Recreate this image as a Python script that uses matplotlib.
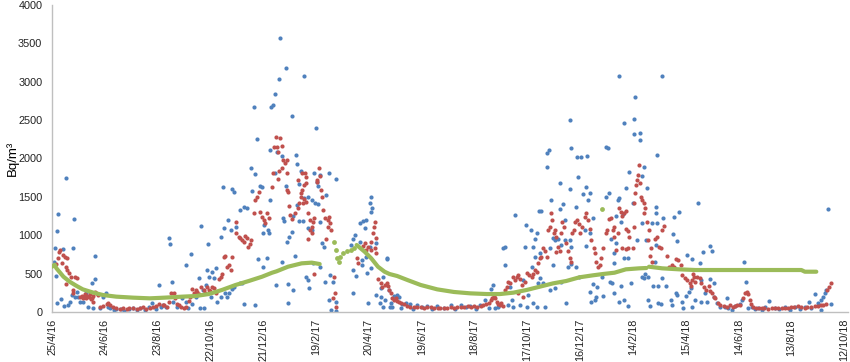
import matplotlib
matplotlib.use("Agg")
import matplotlib.pyplot as plt
import numpy as np
import datetime as dt

# ---- data (x = days since 25/4/2016, y = Bq/m3) ----
start = dt.date(2016, 4, 25)
tick_days = list(range(0, 901, 60))
tick_labels = [f"{(start + dt.timedelta(days=d)).day}/{(start + dt.timedelta(days=d)).month}/{(start + dt.timedelta(days=d)).year % 100}" for d in tick_days]

blue = [
    (2.6,656),(3.4,829),(4.1,469),(6,1055),(7.2,1272),(12,816),(15.8,1750),(24.9,1212),(24,838),(48.6,730),
    (5.3,122),(10,165),(13.6,78),(18.5,91),(21,135),(22.6,221),(26,200),(28,265),(30,200),(32,135),(35.4,135),
    (39,243),(41,70),(45,382),(48.6,426),(47,48),(54,48),(58,200),(61,243),(66,48),(73,35),(88,35),(100,48),
    (113,113),(121,352),(124,70),(64,60),(70,20),(78,40),(82,15),(92,55),(96,25),(106,30),(110,70),(118,40),
    (133,960),(134,882),(136,395),(152.6,612),(157.6,751),(169,1125),(177.5,882),(194.5,1624),(204.6,1603),
    (206.5,1568),(191.5,981),(195,1099),(200,1199),(203,1068),(208.5,1112),(213,1329),(218,1364),(221.6,1350),
    (227.3,1581),(230.3,1798),(226,1881),(229,2675),(233,2250),(236.7,1642),(238.6,1633),(248,2111),(249,2667),
    (250.6,2693),(253,2836),(253.7,1815),(248,1459),(239.3,1025),(245.4,1068),(240.5,1134),(246,1025),(233.7,686),
    (240,590),(244,699),(216,373),(218,104),(231,96),(213,382),(197,243),(199,200),(191.5,200),(187.7,135),
    (181,200),(176.4,547),(182,525),(186.6,569),(184,439),(178.3,460),(171,287),(167,439),(174.5,352),(163,200),
    (159.4,104),(152,135),(148,178),(142.5,70),(137,135),(129,70),(125.5,91),(168,48),(154,48),(172.6,48),
    (204.6,295),(206.5,330),(201,243),(254.4,352),
    (259,3574),(265.4,3175),(257.8,3031),(286,3079),(272,2558),(299.7,2393),(255,2089),(260.8,2033),(276.7,2046),
    (277.8,1928),(282.7,1837),(297.8,1807),(304.2,1785),(314.4,1807),(322,1733),(300.4,1698),(302.3,1642),
    (265.7,1642),(280.4,1668),(291,1503),(286.5,1481),(294.8,1459),(298.5,1424),(302.3,1407),(311.7,1524),
    (277.8,1394),(262.7,1220),(263.9,1190),(274,1251),(280.4,1190),(285.3,1190),(290.2,1090),(294.8,1068),
    (304.2,1177),(272.9,1047),(269.1,973),(266.5,916),(306.8,895),(309,851),(275.9,734),(260.8,647),(296.7,634),
    (304.2,590),(288,460),(290.2,417),(291.7,308),(268.4,365),(274,287),(267.6,122),(309.8,395),(315.5,482),
    (319.3,395),(314.4,156),(322,135),(316.6,26),(322,17),(341.9,947),(349.4,1164),(353.2,1190),(357,1199),
    (360.7,1424),(362.6,1494),(363.7,1351),(362.6,1307),(355,1090),(343.8,1003),(349.4,916),(360.7,851),
    (368.3,895),(340,873),(352,677),(357,721),(352,612),(341.9,547),(345.7,469),(341.9,252),(358,504),(362.6,569),
    (380,686),(375.8,460),(373.2,308),(368.3,221),(372,113),(358.8,122),(374,200),(377.7,156),(383.3,70),(375.8,70),
    (381,699),(383,287),(384.8,113),(388.5,208),(390.4,178),(392.3,221),(394,200),(386.6,70),(396,48),(398,104),
    (401.7,113),(407,104),(415,91),(426,78),(437.5,78),(452.6,91),(464,91),(475,78),(486.5,91),(492,156),(498,295),
    (501,352),(496,48),(503.5,48),(507,70),(410,40),(420,60),(431,45),(445,55),(458,40),(470,60),(481,45),
    (512.6,830),(514.5,851),(525.8,1264),(538.2,1134),(543.5,1068),(537,843),(546.5,851),(548.4,947),(550.3,1025),
    (553.3,1320),(555.9,1320),(561.6,2067),(564.6,2111),(562.7,1885),(567.2,1459),(569.1,960),(571,938),
    (574.8,947),(576.6,1676),(580.4,1407),(576.6,1338),(582.3,1199),(588.7,2502),(589.8,2141),(596.2,2024),
    (601.1,2024),(607.6,2033),(597.4,1763),(606.8,1633),(611.3,1555),(588,1598),(603,1537),(608.7,1459),
    (594.7,1372),(614.3,1220),(604.9,1068),(610.5,1025),(588,938),(589.8,851),(606,860),(599,460),(586,590),
    (589.8,625),(584,113),(594.7,590),(610.5,265),(614.3,365),(618.9,330),(618.1,200),(612.4,135),(616.2,156),
    (625.7,208),(633.2,395),(636.2,373),(629.4,2154),(631.3,2132),(628.7,1503),(632.4,1555),(624.9,460),(635,947),
    (638.8,634),(557.8,373),(569.1,612),(559.7,70),(550.3,70),(546.5,113),(539,70),(531.4,91),(523.9,70),
    (518.2,91),(522,156),(520,321),(514.5,612),(535.2,417),(540.8,221),(552.2,373),(554,439),(571,308),
    (565.3,287),(578.5,395),(554,764),(548.4,721),(565.3,830),(544.6,590),(582.3,938),(578.5,873),
    (643.4,3075),(692.4,3079),(662.2,2797),(661.1,2519),(649.8,2458),(661.1,2319),(668.3,2328),(667.5,2241),
    (687.5,2046),(655.4,1828),(672.4,1893),(669.8,1772),(651.7,1611),(643.4,1481),(642.3,1459),(660,1424),
    (675.4,1611),(685.6,1364),(685.6,1285),(693.9,1220),(712,1298),(706.3,1242),(733.5,1416),(640.4,1251),
    (649,1277),(646,1177),(670.5,1155),(681,1155),(687.5,1164),(664.9,938),(674.3,938),(685.6,873),(705.6,1016),
    (710.1,929),(640.4,895),(649.8,699),(654.7,699),(638.5,764),(684.9,656),(673.5,495),(669.8,460),(677.3,452),
    (672.4,439),(693.1,439),(696.9,339),(688.6,339),(682.6,339),(658.1,373),(646,339),(638.5,243),(644.1,135),
    (649.8,156),(653.6,83),(677.3,156),(678.8,83),(688.6,113),(691.3,104),(702.6,156),(703.7,91),(708.2,243),
    (710.1,221),(716,135),(717,48),(721.4,743),(726.3,686),(720.3,208),(723.3,265),(725.2,308),(735.4,643),
    (739.1,786),(747.8,860),(749,799),(737.6,417),(747.8,426),(751.6,373),(741.4,243),(744.1,135),(736.5,135),
    (730.8,156),(727,70),(751.6,200),(755.3,113),(759.1,61),(764.8,70),
    (766.3,178),(768.2,48),(775.7,78),(781.4,104),(783.2,156),(785.9,647),(787.8,395),(790.8,48),(794.6,70),
    (802,48),(809.6,61),(814.5,143),(821,48),(832.2,70),(843.6,61),(855,70),(859.4,135),(866.2,234),(870,113),
    (873.7,156),(875.6,200),(877.5,243),(879.4,287),(881.3,1342),(884.3,104),(873,26),(772,30),(798,35),
    (806,25),(826,40),(838,30),(849,45),(862,50),
]

red = [
    (5,620),(7,700),(8,780),(9,808),(11,634),(12,743),(14.7,720),(16,590),(16.6,700),(17,547),(19.6,504),(22,460),
    (26,452),(28.6,447),(15.5,365),(24,287),(24,243),(31.7,200),(33.6,208),(35,178),(39,178),(42,200),(44,165),
    (46,135),(48.6,265),(50.5,243),(52,221),(36,190),(38,230),(40,210),(43,240),(45,180),(47,210),
    (54,70),(58,78),(62,104),(64,113),(66,91),(69,70),(73,48),(77,45),(81,48),(85,40),(88,50),(92,48),(96,42),
    (100,52),(103,61),(107,45),(111,55),(115,61),(118,78),(122,104),(126,91),
    (127.4,91),(131,70),(135,243),(138.7,252),(142.5,104),(146,61),(150,48),(152,70),(155.7,148),(159.4,295),
    (161.3,243),(163,287),(169,321),(172.6,287),(176.4,321),(178.3,287),(182,330),(184,308),(186,243),
    (189.6,426),(191.5,460),(193.4,495),(195,721),(197,730),(199,590),(201,612),(203,547),(204.6,712),
    (208.5,1177),(209.2,1025),(212,981),(214,960),(216,938),(218,916),(219.7,990),(221.6,960),(223,851),
    (224.6,882),(226.5,938),(229,1285),(231,1459),(233,1503),(234.8,1568),(236.7,1307),(238.6,1242),
    (240.5,1199),(242.4,1164),(244,1285),(247,1220),(250,1624),(251,1807),(252.5,2154),(254.4,2284),
    (133,130),(140,180),(144,90),(157,200),(165,260),(167,230),(174,250),(180,270),
    (255,2154),(256.3,2089),(259,2263),(261.6,2167),(262.7,1980),(264.6,1937),(266.5,1980),(260.8,1872),
    (257.8,1841),(266.5,1807),(257,1728),(266.5,1590),(268.4,1568),(269.1,1381),(270.3,1264),(272.2,1207),
    (276,1285),(279,1351),(280.4,1416),(282.7,1546),(283.5,1590),(286.5,1655),(288,1685),(289,1763),
    (287.2,1807),(284.2,1807),(279.7,1720),(282.7,1503),(285.3,1416),(286.5,1468),(289,1438),(291,1294),
    (293,1199),(294.8,1112),(293,1068),(291,947),(295.5,1025),(296.7,1177),(297.8,1220),(300.4,1698),
    (301.5,1720),(303,1872),(304.2,1772),(305.3,1590),(306.8,1503),(308,1329),(309.8,1220),(312.9,1199),
    (314.7,1233),(315.5,1164),(313.6,1112),(311.7,947),(317.4,1068),(319.3,178),(320.4,460),(321.1,252),
    (322,70),(297,495),(353,860),(355,895),(358.8,851),(362.6,916),(364.5,1025),(365.6,1112),(366.4,1177),
    (368.3,960),(366.4,829),(368.3,764),(362.6,808),(357,808),(346.8,699),(347.5,634),(370.2,426),(373.2,373),
    (374.7,330),(377.7,352),(381.5,339),
    (381,382),(383,287),(385,243),(386.6,178),(388.5,156),(390.4,178),(392.3,143),(394,135),(396,113),(400,104),
    (403.6,78),(407,70),(411,61),(415,65),(418.7,70),(422,55),(426,60),(430,61),(434,50),(438,55),(441,48),
    (445,58),(449,52),(452.6,61),(456,55),(460,65),(464,70),(468,60),(472,72),(476,65),(479,78),(483,70),
    (487,82),(490,91),(493,100),(496,113),(498,150),(500,178),(502,208),(503.5,178),(505,135),(507,110),(509,91),
    (509.5,113),(511.8,78),(514.5,287),(516.3,330),(518.2,395),(520,373),(523,460),(525.8,417),(527.6,460),
    (529.5,482),(531.4,426),(533.3,352),(529.5,243),(534.4,200),(537,395),(539,504),(542,482),(544.6,460),
    (546.5,495),(548.4,547),(550.3,525),(552.2,634),(554,699),(555.9,712),(557.8,830),(559.7,799),(561.6,721),
    (563.5,1068),(565.3,1112),(567.2,1285),(568.3,1199),(570.2,1025),(571,1068),(572.9,981),(574.8,851),
    (572.1,786),(576.6,799),(578.5,1025),(579.7,1177),(581.2,1103),(583.4,903),(586,799),(588,699),(589.8,656),
    (591,1025),(592.5,1068),(593.6,1177),(596.2,1199),(598.5,1147),(600,1025),(602.3,1112),(605,1242),
    (606.8,1285),(608.7,1199),(610.5,1077),(612.4,938),(615.1,830),(616.2,764),(618.1,656),(620,590),
    (621.9,612),(623.8,699),(625.7,830),(628.7,1025),(630.2,1068),(632.4,1207),(635,1220),(637,1068),(638.8,1112),
    (638.5,981),(640.4,808),(642.3,1025),(644.1,1351),(646,1307),(647.1,1251),(649.8,1285),(652.4,1320),
    (651.7,1077),(653.6,1060),(655.4,973),(654.7,830),(651.7,816),(647.9,830),(660,830),(661.1,1112),
    (661.1,1416),(662.2,1546),(663.7,1655),(664.9,1720),(666,1785),(666.8,1915),(667.5,1676),(668.6,1503),
    (670.5,1459),(672.4,1416),(673.5,1351),(672.4,1285),(676.2,1177),(678.1,1068),(677.3,938),(680,830),
    (678.8,730),(681.8,656),(684.9,947),(687.5,981),(689.4,851),(691.3,830),(693.1,1068),(695,1120),(698.8,730),
    (700.7,590),(703.7,612),(706.3,590),(709,686),(711.2,677),(713.9,612),(715.8,482),(718.8,439),(721.4,417),
    (724,382),(725.2,339),(726.3,417),(727.8,495),(729,460),(730.8,395),(732.7,452),(735.4,439),(737.6,373),
    (740.3,321),(742.9,287),(745.9,339),(747.8,278),(749.7,252),(751.6,200),(753.5,178),(756.5,113),(759.1,91),
    (762.9,78),(766.6,70),
    (770,91),(773,70),(775.7,78),(778,85),(781.4,91),(785.1,178),(787,243),(788.9,256),(790.8,234),(792.7,156),
    (793.8,104),(796.4,61),(800,55),(803,50),(805.9,48),(809,52),(813,45),(817.2,48),(821,55),(825,50),
    (828.5,48),(832,58),(836,52),(839.8,61),(843,70),(847.3,78),(851,60),(854.9,48),(858,62),(862.4,70),
    (866,72),(869.9,78),(873,85),(875.6,91),(879.4,104),(880.5,287),(882,330),(884.3,373),
]

green_a = [(0,590),(3,615),(5,570),(13,460),(20,395),(28,339),(35,295),(47,252),(58,221),(73,200),(92,187),
           (111,178),(128,187),(148,200),(163,208),(178,234),(193,287),(208.5,352),(223.5,404),(238.6,460),
           (250,512),(255,530),(268,590),(283.5,634),(295,643),(304,625)]
green_scatter = [(320,916),(322,808),(323.6,704),(325.6,656),(327.6,716),(331,768),(335,795),(339,808),
                 (342.6,834),(624.5,1338)]
green_b = [(346,873),(355,786),(362.6,699),(370.2,590),(377.7,525),(383.3,495),(392,469),(403.6,417),
           (418.7,352),(437.5,295),(456.4,261),(475,243),(494,234),(508.8,234),(524,252),(539,287),(554,330),
           (569,373),(584,404),(599,452),(614.4,478),(625.7,495),(638.8,512),(651.7,556),(666.8,569),(675,573)]
green_c = [(678,590),(693,569),(712,556),(730.8,547),(766.6,547),(851,547),(855,525),(868,525)]

# ---- style ----
BLUE = "#4F81BD"
RED = "#C0504D"
GREEN = "#9BBB59"
AXIS = "#BFBFBF"
TICKFONT = ["Liberation Sans Narrow", "Liberation Sans", "DejaVu Sans"]

fig = plt.figure(figsize=(8.5, 3.62), dpi=100)
ax = fig.add_axes([52/850, 50/362, 796/850, 307/362])

bx, by = zip(*blue)
rx, ry = zip(*red)
ax.scatter(bx, by, s=9, color=BLUE, linewidths=0, zorder=2)
ax.scatter(rx, ry, s=9, color=RED, linewidths=0, zorder=3)
for seg in (green_a, green_b, green_c):
    gx, gy = zip(*seg)
    ax.plot(gx, gy, color=GREEN, lw=3.0, solid_capstyle="round", zorder=4)
sx, sy = zip(*green_scatter)
ax.scatter(sx, sy, s=12, color=GREEN, linewidths=0, zorder=4)

ax.set_xlim(0, 904)
ax.set_ylim(0, 4000)
ax.set_xticks(tick_days)
ax.set_xticklabels(tick_labels, rotation=90, fontsize=7.8, family=TICKFONT, color="#222222")
ax.set_yticks(range(0, 4001, 500))
ax.set_yticklabels([str(v) for v in range(0, 4001, 500)], fontsize=7.8, family=TICKFONT, color="#222222")
ax.tick_params(axis="x", length=0, pad=5)
ax.tick_params(axis="y", length=0, pad=7)

for s in ("top", "right"):
    ax.spines[s].set_visible(False)
for s in ("left", "bottom"):
    ax.spines[s].set_color(AXIS)
    ax.spines[s].set_linewidth(1.0)

ax.set_ylabel("Bq/m³", fontsize=9.5, family=["Liberation Sans", "DejaVu Sans"])
ax.yaxis.set_label_coords(-0.042, 0.5)

fig.savefig("out.png", dpi=100)
